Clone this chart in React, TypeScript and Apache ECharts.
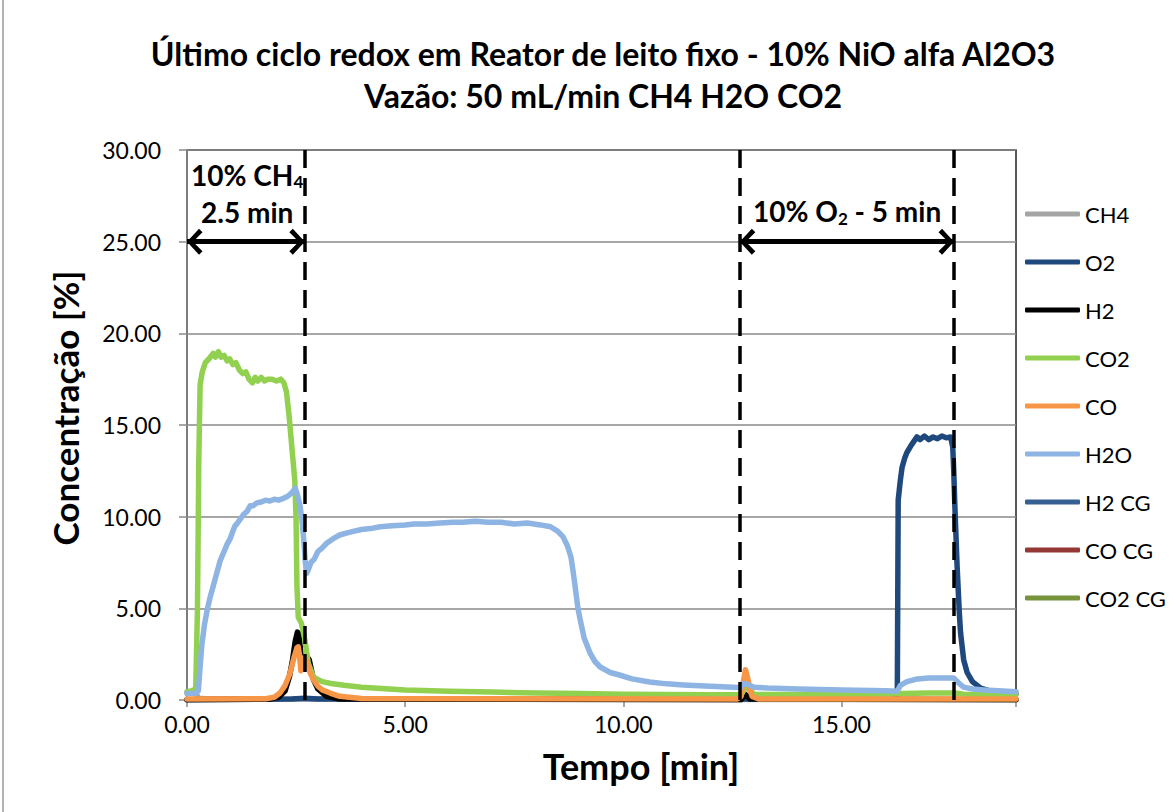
import { useEffect, useRef } from 'react';
import * as echarts from 'echarts';

const FONT = 'Lato, "Liberation Sans", Arial, sans-serif';

const titleLines = ['Último ciclo redox em Reator de leito fixo - 10% NiO alfa Al2O3', 'Vazão: 50 mL/min CH4 H2O CO2'];
const xAxisName = 'Tempo [min]';
const yAxisName = 'Concentração [%]';

const seriesNames = ['CH4', 'O2', 'H2', 'CO2', 'CO', 'H2O', 'H2 CG', 'CO CG', 'CO2 CG'];
const seriesColors = ['#A5A5A5', '#1F497D', '#000000', '#92D050', '#F79646', '#8DB4E2', '#376092', '#953735', '#77933C'];

const xTicks = [0, 5, 10, 15];
const xMax = 19;
const yTicks = [0, 5, 10, 15, 20, 25, 30];

// [time min, concentration %]
const ch4: [number, number][] = [[0, 0.4], [0.2, 0.4], [0.26, 0.1], [0.5, 0.05], [19, 0.02]];

const o2: [number, number][] = [
  [0, 0.02], [2.4, 0.05], [2.7, 0.1], [3.0, 0.05], [16.25, 0.05], [16.28, 0.5], [16.3, 10.9], [16.35, 12.0],
  [16.39, 12.7], [16.45, 13.2], [16.5, 13.5], [16.6, 13.9], [16.73, 14.35], [16.8, 14.2], [16.9, 14.4], [17.0, 14.2],
  [17.1, 14.35], [17.2, 14.25], [17.3, 14.4], [17.4, 14.3], [17.5, 14.35], [17.55, 13.8], [17.57, 12.7], [17.6, 10.5],
  [17.65, 7.3], [17.7, 4.8], [17.73, 3.65], [17.8, 2.2], [17.88, 1.5], [18.0, 1.0], [18.19, 0.65], [18.4, 0.5],
  [18.57, 0.4], [19, 0.35],
];

const h2: [number, number][] = [
  [0, 0.02], [1.9, 0.05], [2.1, 0.15], [2.25, 0.5], [2.35, 1.3], [2.42, 2.2], [2.48, 3.2], [2.53, 3.7], [2.57, 3.6],
  [2.62, 2.2], [2.68, 2.0], [2.74, 2.4], [2.8, 2.2], [2.9, 1.1], [3.0, 0.6], [3.2, 0.2], [3.5, 0.05], [12.7, 0.02],
  [12.8, 0.3], [12.9, 0.05], [19, 0.02],
];

const co2: [number, number][] = [
  [0, 0.45], [0.1, 0.5], [0.2, 0.6], [0.24, 5], [0.27, 13], [0.3, 17.2], [0.35, 17.9], [0.42, 18.4], [0.5, 18.6],
  [0.6, 18.9], [0.65, 18.7], [0.72, 19.0], [0.78, 18.7], [0.85, 18.8], [0.92, 18.5], [0.98, 18.6], [1.05, 18.3],
  [1.12, 18.4], [1.2, 18.0], [1.28, 17.8], [1.35, 17.9], [1.42, 17.5], [1.5, 17.3], [1.56, 17.6], [1.62, 17.4],
  [1.7, 17.6], [1.78, 17.4], [1.85, 17.5], [1.95, 17.5], [2.05, 17.4], [2.15, 17.5], [2.22, 17.3], [2.28, 16.8],
  [2.34, 15.5], [2.41, 13.6], [2.47, 12.0], [2.5, 9.8], [2.52, 6.2], [2.55, 4.5], [2.62, 4.2], [2.7, 3.3], [2.78, 2.0],
  [2.9, 1.25], [3.1, 1.0], [3.3, 0.9], [3.6, 0.8], [4, 0.7], [5, 0.55], [6, 0.48], [7, 0.43], [8, 0.38], [9, 0.35],
  [10, 0.32], [11, 0.3], [12, 0.28], [12.7, 0.28], [12.8, 0.7], [12.9, 0.55], [13.0, 0.3], [14, 0.3], [15, 0.3],
  [16, 0.3], [16.4, 0.35], [17, 0.38], [17.6, 0.38], [17.8, 0.32], [19, 0.3],
];

const co: [number, number][] = [
  [0, 0.05], [1.8, 0.07], [2.0, 0.15], [2.13, 0.38], [2.25, 0.8], [2.36, 1.45], [2.45, 2.3], [2.52, 2.85], [2.55, 2.9],
  [2.58, 2.4], [2.61, 1.6], [2.65, 1.9], [2.7, 2.35], [2.75, 2.1], [2.82, 1.5], [2.9, 1.1], [3.0, 0.75], [3.1, 0.55],
  [3.28, 0.38], [3.5, 0.2], [4.0, 0.08], [12.6, 0.05], [12.7, 0.2], [12.75, 1.0], [12.8, 1.65], [12.85, 1.2],
  [12.9, 0.6], [12.95, 0.2], [13.1, 0.06], [19, 0.05],
];

const h2o: [number, number][] = [
  [0, 0.35], [0.2, 0.38], [0.26, 0.5], [0.3, 1.8], [0.34, 3.0], [0.4, 4.1], [0.47, 5.0], [0.53, 5.6], [0.6, 6.2],
  [0.68, 6.9], [0.76, 7.6], [0.85, 8.1], [0.92, 8.5], [0.99, 8.8], [1.05, 9.2], [1.1, 9.5], [1.14, 9.6], [1.2, 9.8],
  [1.29, 10.1], [1.38, 10.3], [1.45, 10.6], [1.52, 10.6], [1.6, 10.75], [1.7, 10.8], [1.8, 10.9], [1.9, 10.85],
  [2.0, 10.95], [2.1, 10.9], [2.21, 11.0], [2.3, 11.1], [2.4, 11.3], [2.48, 11.55], [2.53, 11.2], [2.59, 10.6],
  [2.63, 9.9], [2.67, 8.9], [2.71, 7.6], [2.74, 6.9], [2.78, 7.1], [2.84, 7.5], [2.92, 7.7], [3.0, 8.1], [3.1, 8.3],
  [3.2, 8.55], [3.35, 8.8], [3.5, 9.0], [3.65, 9.1], [3.81, 9.2], [4.0, 9.3], [4.2, 9.35], [4.43, 9.45], [4.7, 9.5],
  [5.0, 9.55], [5.2, 9.6], [5.5, 9.6], [5.8, 9.65], [6.1, 9.7], [6.33, 9.7], [6.6, 9.75], [6.9, 9.7], [7.2, 9.7],
  [7.5, 9.6], [7.8, 9.65], [8.1, 9.55], [8.33, 9.45], [8.5, 9.2], [8.62, 8.9], [8.72, 8.4], [8.8, 7.8], [8.85, 7.0],
  [8.9, 6.1], [8.96, 5.0], [9.01, 4.4], [9.1, 3.4], [9.24, 2.55], [9.35, 2.1], [9.47, 1.8], [9.7, 1.5], [9.93, 1.35],
  [10.2, 1.15], [10.6, 0.98], [11, 0.88], [11.38, 0.82], [12, 0.75], [12.52, 0.7], [12.7, 0.68], [12.75, 0.9],
  [12.85, 0.85], [13, 0.7], [13.3, 0.65], [14, 0.6], [15, 0.55], [16, 0.5], [16.28, 0.48], [16.35, 0.8], [16.5, 1.0],
  [16.74, 1.15], [17, 1.2], [17.3, 1.2], [17.57, 1.2], [17.7, 0.9], [17.8, 0.7], [18.0, 0.6], [18.26, 0.55],
  [18.6, 0.5], [19, 0.45],
];

const h2cg: [number, number][] = [];
const cocg: [number, number][] = [];
const co2cg: [number, number][] = [];

const seriesData = [ch4, o2, h2, co2, co, h2o, h2cg, cocg, co2cg];

// annotations (in data units)
const phaseBoundaries = [2.7, 12.67, 17.58];
const arrowLevel = 25;
const arrowSpans: [number, number][] = [[0, 2.7], [12.67, 17.58]];
const annotTexts = ['{b|10% CH}{s|4}\n{b|2.5 min}', '{b|10% O}{s|2}{b| - 5 min}'];
const annotCoords: [number, number][] = [[1.38, 27.63], [15.13, 26.67]];

const CHEVRON = 'path://M13,0 L13.01,0 L13,0.01 Z M13,15.5 L26,27.5 L22.5,31 L13,21.5 L3.5,31 L0,27.5 Z';

export default function App() {
  const ref = useRef<HTMLDivElement>(null);
  useEffect(() => {
    if (!ref.current) return;
    const chart = echarts.init(ref.current, undefined, { renderer: 'svg' });
    const lineSeries = seriesNames.map((name, i) => ({
      name,
      type: 'line',
      data: seriesData[i],
      symbol: 'none',
      showSymbol: false,
      color: seriesColors[i],
      lineStyle: { color: seriesColors[i], width: 5.5, cap: 'round', join: 'round' },
      z: 2 + i * 0.01,
    }));
    const option: any = {
      animation: false,
      backgroundColor: '#ffffff',
      textStyle: { fontFamily: FONT },
      graphic: [
        {
          type: 'line',
          shape: { x1: 3, y1: 0, x2: 3, y2: 812 },
          style: { stroke: '#9a9a9a', lineWidth: 1.5 },
          silent: true,
        },
      ],
      title: {
        text: titleLines.join('\n'),
        left: 598,
        top: 27,
        textAlign: 'center',
        textStyle: { fontFamily: FONT, fontSize: 32, fontWeight: 'bold', color: '#000', lineHeight: 42 },
      },
      legend: {
        orient: 'vertical',
        left: 1020,
        top: 197,
        data: seriesNames,
        icon: 'roundRect',
        itemWidth: 55,
        itemHeight: 5,
        itemGap: 24,
        selectedMode: false,
        textStyle: { fontFamily: FONT, fontSize: 22, color: '#000', lineHeight: 24 },
      },
      grid: {
        left: 187,
        top: 150,
        width: 829,
        height: 550,
        show: true,
        borderColor: '#222',
        borderWidth: 1.5,
      },
      xAxis: {
        type: 'value',
        min: 0,
        max: xMax,
        interval: 5,
        name: xAxisName,
        nameLocation: 'middle',
        nameGap: 48,
        nameTextStyle: { fontFamily: FONT, fontSize: 36, fontWeight: 'bold', color: '#000', padding: [0, 0, 0, 79] },
        axisLine: { show: true, lineStyle: { color: '#8a8a8a', width: 1.5 } },
        axisTick: { show: true, length: 7, lineStyle: { color: '#8a8a8a', width: 1.5 } },
        splitLine: { show: false },
        axisLabel: {
          margin: 12,
          fontFamily: FONT,
          fontSize: 23,
          color: '#000',
          formatter: (v: number) => (xTicks.includes(v) ? v.toFixed(2) : ''),
        },
      },
      yAxis: {
        type: 'value',
        min: yTicks[0],
        max: yTicks[yTicks.length - 1],
        interval: 5,
        name: yAxisName,
        nameLocation: 'middle',
        nameGap: 105,
        nameTextStyle: { fontFamily: FONT, fontSize: 35, fontWeight: 'bold', color: '#000', padding: [0, 0, 0, 34] },
        axisLine: { show: true, lineStyle: { color: '#8a8a8a', width: 1.5 } },
        axisTick: { show: true, length: 8, lineStyle: { color: '#8a8a8a', width: 1.5 } },
        splitLine: { show: true, lineStyle: { color: '#8a8a8a', width: 1.5 } },
        axisLabel: {
          margin: 26,
          fontFamily: FONT,
          fontSize: 23,
          color: '#000',
          formatter: (v: number) => v.toFixed(2),
        },
      },
      series: [
        ...lineSeries,
        {
          name: '__boundaries',
          type: 'line',
          data: [],
          z: 10,
          silent: true,
          markLine: {
            silent: true,
            symbol: ['none', 'none'],
            label: { show: false },
            lineStyle: { color: '#000', type: [18, 10], width: 3.5 },
            data: phaseBoundaries.map((x) => ({ xAxis: x })),
          },
        },
        {
          name: '__arrows',
          type: 'line',
          data: [],
          z: 11,
          silent: true,
          markLine: {
            silent: true,
            symbol: [CHEVRON, CHEVRON],
            symbolSize: [26, 31],
            label: { show: false },
            lineStyle: { color: '#000', type: 'solid', width: 5 },
            data: arrowSpans.map(([a, b]) => [{ coord: [a, arrowLevel] }, { coord: [b, arrowLevel] }]),
          },
          markPoint: {
            silent: true,
            symbol: 'circle',
            symbolSize: 0.1,
            itemStyle: { color: 'rgba(0,0,0,0)' },
            label: {
              show: true,
              position: 'inside',
              align: 'center',
              verticalAlign: 'middle',
              rich: {
                b: { fontFamily: FONT, fontSize: 28, fontWeight: 'bold', color: '#000', lineHeight: 37 },
                s: { fontFamily: FONT, fontSize: 17, fontWeight: 'bold', color: '#000', padding: [14, 0, 0, 0] },
              },
            },
            data: annotCoords.map((c, i) => ({ coord: c, value: 0, label: { formatter: annotTexts[i] } })),
          },
        },
      ],
    };
    chart.setOption(option);
    return () => chart.dispose();
  }, []);
  return (
    <div
      ref={ref}
      style={{ position: 'absolute', left: 0, top: 0, width: 1176, height: 812, background: '#fff' }}
    />
  );
}
